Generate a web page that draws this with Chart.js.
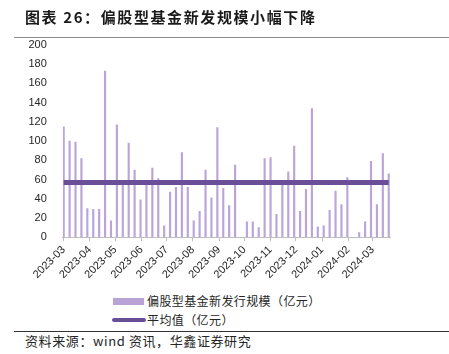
<!DOCTYPE html>
<html>
<head>
<meta charset="utf-8">
<script src="https://cdn.jsdelivr.net/npm/chart.js@4.4.1/dist/chart.umd.min.js"></script>
<style>
    body { margin: 0; background: #fff; }
    #wrap { position: relative; width: 449px; height: 354px; overflow: hidden; font-family: "Noto Sans CJK SC", sans-serif; }
    #chartBox { position: absolute; left: 0; top: 0; width: 449px; height: 292px; }
    .title { position: absolute; left: 25px; top: 6px; font-size: 15px; font-weight: bold; letter-spacing: 1.6px; color: #1a1a1a; white-space: nowrap; }
    .rule { position: absolute; left: 14px; width: 435px; height: 1px; }
    .legend-text { position: absolute; left: 147px; font-size: 12px; letter-spacing: 0.4px; color: #262626; white-space: nowrap; line-height: 16px; }
    .swatch { position: absolute; }
    .source { position: absolute; left: 25px; top: 332px; font-size: 13px; letter-spacing: 0.6px; color: #262626; white-space: nowrap; line-height: 18px; }
</style>
</head>
<body>
<div id="wrap">
    <div id="chartBox"><canvas id="myChart"></canvas></div>
    <div class="title">图表 26：偏股型基金新发规模小幅下降</div>
    <div class="rule" style="top: 37px; background: #8c8c8c;"></div>

    <div class="swatch" style="left: 113px; top: 298px; width: 31px; height: 7px; background: #b9a2d6;"></div>
    <div class="legend-text" style="top: 293px;">偏股型基金新发行规模（亿元）</div>
    <div class="swatch" style="left: 112px; top: 318px; width: 34px; height: 4px; border-radius: 2px; background: #6b4e98;"></div>
    <div class="legend-text" style="top: 312px;">平均值（亿元）</div>

    <div class="rule" style="top: 331px; background: #333;"></div>
    <div class="source">资料来源：wind 资讯，华鑫证券研究</div>
</div>

<script>
// weekly new issuance of equity-biased funds (亿元), first week starting 2023-03-01
const firstWeek = '2023-03-01';
const weeklyIssuance = [
    115, 100, 99, 82, 30, 29, 29, 173, 17, 117,
    54, 98, 70, 39, 55, 72, 61, 12, 47, 52,
    88, 52, 17, 27, 70, 41, 114, 51, 33, 75,
    0, 16, 16, 10, 82, 83, 24, 54, 68, 95,
    27, 50, 134, 11, 12, 28, 48, 34, 62, 0,
    5, 16, 79, 34, 87, 66
];
const avgValue = 57;
const monthLabels = ['2023-03', '2023-04', '2023-05', '2023-06', '2023-07', '2023-08', '2023-09',
    '2023-10', '2023-11', '2023-12', '2024-01', '2024-02', '2024-03'];
const yTicks = [0, 20, 40, 60, 80, 100, 120, 140, 160, 180, 200];

const DAY = 86400000;
const startMs = Date.parse(firstWeek);

// x axis runs in days since the first week
const weekX = weeklyIssuance.map((v, i) => i * 7);
const monthX = monthLabels.map(m => (Date.parse(m + '-01') - startMs) / DAY);

const barColor = '#bba5d8';
const avgColor = '#6b4e98';
const axisColor = '#bfbfbf';

const ctx = document.getElementById('myChart').getContext('2d');
const myChart = new Chart(ctx, {
    type: 'bar',
    data: {
        datasets: [
            {
                type: 'line',
                label: '平均值（亿元）',
                data: weekX.map(x => ({ x: x, y: avgValue })),
                borderColor: avgColor,
                borderWidth: 5,
                pointRadius: 0,
                tension: 0,
                order: 0
            },
            {
                label: '偏股型基金新发行规模（亿元）',
                data: weeklyIssuance.map((v, i) => ({ x: weekX[i], y: v })),
                backgroundColor: barColor,
                barThickness: 1.5,
                order: 1
            }
        ]
    },
    options: {
        responsive: true,
        maintainAspectRatio: false,
        animation: false,
        layout: { autoPadding: false, padding: { top: 45, right: 59, left: 0, bottom: 0 } },
        plugins: {
            legend: { display: false },
            tooltip: { enabled: false }
        },
        scales: {
            x: {
                type: 'linear',
                offset: false,
                min: -1,
                max: 386.5,
                afterBuildTicks: (axis) => {
                    axis.ticks = monthX.map(v => ({ value: v }));
                },
                afterFit: (axis) => {
                    axis.height = 54.7;
                    axis.paddingLeft = 0;
                    axis.paddingRight = 0;
                },
                grid: {
                    display: true,
                    offset: false,
                    drawOnChartArea: false,
                    drawTicks: true,
                    tickLength: 4,
                    color: axisColor
                },
                border: { display: true, color: axisColor, width: 1 },
                ticks: {
                    autoSkip: false,
                    maxRotation: 45,
                    minRotation: 45,
                    padding: 2,
                    color: '#262626',
                    font: { family: 'Liberation Sans', size: 11 },
                    callback: (value, index) => monthLabels[index]
                }
            },
            y: {
                min: 0,
                max: 200,
                afterBuildTicks: (axis) => {
                    axis.ticks = yTicks.map(v => ({ value: v }));
                },
                afterFit: (axis) => {
                    axis.width = 62.85;
                    axis.paddingTop = 0;
                    axis.paddingBottom = 0;
                },
                grid: { display: false, drawTicks: false },
                border: { display: false },
                ticks: {
                    padding: 16,
                    color: '#262626',
                    font: { family: 'Liberation Sans', size: 11 }
                }
            }
        }
    }
});
</script>
</body>
</html>
